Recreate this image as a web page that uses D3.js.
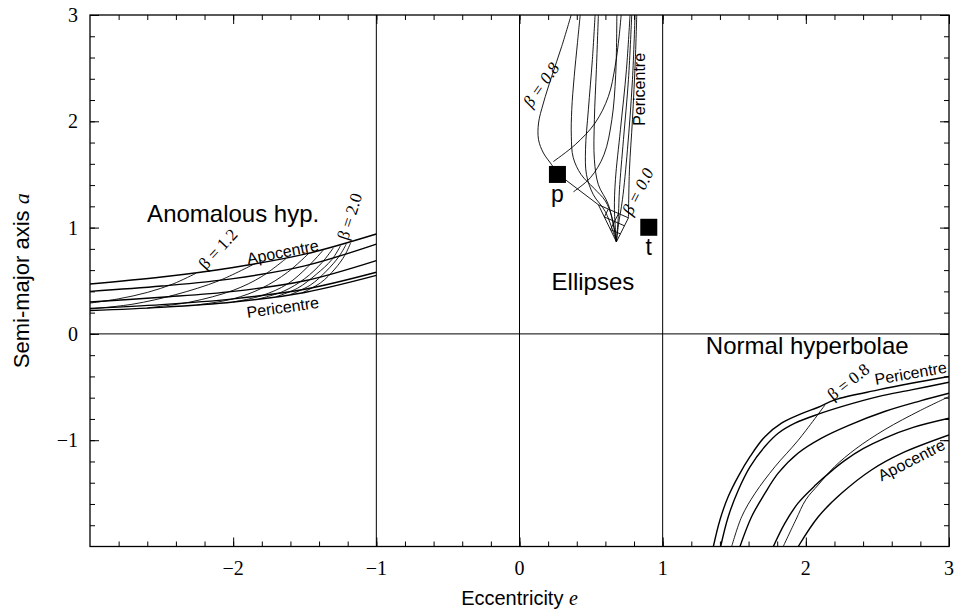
<!DOCTYPE html>
<html>
<head>
<meta charset="utf-8">
<style>
  body { margin: 0; background: #fff; }
  .lbl { font-family: "Liberation Sans", Arial, sans-serif; }
  .ser { font-family: "Liberation Serif", "Times New Roman", serif; }
</style>
</head>
<body>
<script src="https://cdn.jsdelivr.net/npm/d3@7/dist/d3.min.js"></script>
<script>
// ---- tick data ----
var xTickValues = [-2, -1, 0, 1, 2, 3];
var xTickLabels = ["\u22122", "\u22121", "0", "1", "2", "3"];
var yTickValues = [3, 2, 1, 0, -1];
var yTickLabels = ["3", "2", "1", "0", "\u22121"];
var dividerE = [-1, 0, 1];
var dividerA = [0];

// ---- anomalous hyperbolae, [e, a] ----
// thick lines, apocentre (top) down to pericentre (bottom)
var anomThick = [
  [[-3, 0.47], [-2.5, 0.535], [-2, 0.625], [-1.5, 0.75], [-1, 0.94]],
  [[-3, 0.40], [-2.5, 0.45], [-2, 0.52], [-1.5, 0.64], [-1, 0.845]],
  [[-3, 0.30], [-2.5, 0.345], [-2, 0.40], [-1.5, 0.50], [-1, 0.69]],
  [[-3, 0.24], [-2.5, 0.275], [-2, 0.33], [-1.5, 0.42], [-1, 0.58]],
  [[-3, 0.22], [-2.5, 0.25], [-2, 0.30], [-1.5, 0.39], [-1, 0.55]]
];
// thin beta lines, beta = 1.2 ... 2.0
var anomBeta = [
  [[-3, 0.29], [-2.8, 0.33], [-2.6, 0.39], [-2.42, 0.47], [-2.26, 0.57]],
  [[-3, 0.235], [-2.7, 0.28], [-2.4, 0.37], [-2.1, 0.50], [-1.85, 0.66]],
  [[-2.6, 0.245], [-2.3, 0.30], [-2.0, 0.41], [-1.8, 0.54], [-1.63, 0.71]],
  [[-2.25, 0.272], [-2.0, 0.33], [-1.8, 0.43], [-1.62, 0.58], [-1.47, 0.76]],
  [[-2.0, 0.30], [-1.8, 0.36], [-1.62, 0.47], [-1.48, 0.63], [-1.37, 0.79]],
  [[-1.82, 0.33], [-1.65, 0.40], [-1.5, 0.52], [-1.38, 0.67], [-1.30, 0.81]],
  [[-1.70, 0.35], [-1.55, 0.43], [-1.42, 0.56], [-1.31, 0.70], [-1.25, 0.83]],
  [[-1.60, 0.37], [-1.46, 0.46], [-1.35, 0.59], [-1.26, 0.73], [-1.21, 0.845]],
  [[-1.52, 0.385], [-1.39, 0.48], [-1.29, 0.61], [-1.22, 0.74], [-1.18, 0.855]]
];

// ---- ellipses, [e, a] ----
var ellCurves = [
  [[0.361, 3.0], [0.295, 2.705], [0.225, 2.423], [0.167, 2.172], [0.133, 1.984], [0.133, 1.827], [0.167, 1.702], [0.225, 1.591], [0.265, 1.507]],
  [[0.424, 3.0], [0.405, 2.74], [0.382, 2.42], [0.365, 2.11], [0.362, 1.86], [0.375, 1.66], [0.43, 1.50], [0.52, 1.37], [0.60, 1.25], [0.645, 1.10], [0.677, 0.866]],
  [[0.528, 3.0], [0.509, 2.58], [0.481, 2.109], [0.461, 1.733], [0.468, 1.497], [0.516, 1.309], [0.600, 1.149], [0.677, 0.866]],
  [[0.551, 3.0], [0.537, 2.486], [0.523, 2.015], [0.523, 1.638], [0.551, 1.403], [0.621, 1.215], [0.677, 0.866]],
  [[0.772, 3.0], [0.747, 2.486], [0.705, 1.921], [0.670, 1.450], [0.663, 1.168], [0.677, 0.866]],
  [[0.784, 3.0], [0.761, 2.392], [0.726, 1.827], [0.698, 1.356], [0.691, 1.121], [0.677, 0.866]],
  [[0.807, 3.0], [0.789, 2.392], [0.754, 1.733], [0.719, 1.262], [0.691, 1.026], [0.677, 0.866]],
  [[0.819, 3.0], [0.809, 2.58], [0.789, 2.015], [0.768, 1.544], [0.761, 1.092]],
  [[0.237, 1.622], [0.389, 1.780], [0.528, 1.984], [0.621, 2.234], [0.668, 2.517], [0.696, 2.800], [0.710, 3.0]],
  [[0.377, 1.337], [0.495, 1.469], [0.590, 1.685], [0.645, 2.015], [0.672, 2.439], [0.680, 3.0]]
];
// straight pieces near the beta = 0 corner
var ellNet = [
  [[0.265, 1.507], [0.551, 1.215]],
  [[0.551, 1.215], [0.761, 1.092]],
  [[0.761, 1.092], [0.677, 0.866]],
  [[0.551, 1.215], [0.677, 0.866]],
  [[0.620, 1.174], [0.593, 1.100]],
  [[0.692, 1.133], [0.635, 0.981]],
  [[0.593, 1.100], [0.733, 1.017]],
  [[0.635, 0.981], [0.705, 0.941]]
];
var markers = [
  { name: "p", e: 0.265, a: 1.50 },
  { name: "t", e: 0.903, a: 1.003 }
];

// ---- normal hyperbolae, [e, a] ----
var normThick = [
  [[1.354, -2.0], [1.40, -1.75], [1.458, -1.53], [1.528, -1.34], [1.61, -1.155], [1.714, -0.967], [1.83, -0.84], [1.97, -0.75], [2.087, -0.69], [2.203, -0.62], [2.505, -0.527], [2.737, -0.464], [3.0, -0.40]],
  [[1.405, -2.0], [1.458, -1.72], [1.528, -1.47], [1.61, -1.25], [1.714, -1.06], [1.807, -0.935], [1.924, -0.84], [2.087, -0.755], [2.273, -0.675], [2.505, -0.59], [2.737, -0.527], [3.0, -0.455]],
  [[1.54, -2.0], [1.621, -1.72], [1.714, -1.50], [1.807, -1.31], [1.947, -1.12], [2.11, -0.98], [2.3, -0.86], [2.55, -0.73], [2.8, -0.63], [3.0, -0.558]],
  [[1.773, -2.0], [1.854, -1.78], [1.947, -1.59], [2.07, -1.42], [2.17, -1.30], [2.273, -1.19], [2.4, -1.08], [2.552, -0.98], [2.75, -0.88], [3.0, -0.794]],
  [[1.947, -2.0], [2.087, -1.72], [2.249, -1.50], [2.458, -1.28], [2.668, -1.124], [3.0, -0.951]]
];
var normBeta = [
  [[1.482, -2.0], [1.552, -1.72], [1.645, -1.50], [1.784, -1.25], [1.947, -1.0], [2.133, -0.67]],
  [[1.842, -2.0], [1.93, -1.75], [2.0, -1.56], [2.087, -1.42], [2.2, -1.25], [2.35, -1.08], [2.552, -0.90], [2.8, -0.72], [3.0, -0.59]]
];

// ---- chart ----
var W = 957, H = 615;
var svg = d3.select("body").append("svg")
    .attr("width", W).attr("height", H);

var x = d3.scaleLinear().domain([-3, 3]).range([90, 949]);
var y = d3.scaleLinear().domain([-2, 3]).range([546.5, 15]);

svg.append("clipPath").attr("id", "clip")
  .append("rect")
    .attr("x", x(-3)).attr("y", y(3))
    .attr("width", x(3) - x(-3)).attr("height", y(-2) - y(3));

var plot = svg.append("g").attr("clip-path", "url(#clip)");

var smooth = d3.line()
    .x(function(d) { return x(d[0]); })
    .y(function(d) { return y(d[1]); })
    .curve(d3.curveCatmullRom.alpha(0.5));
var straight = d3.line()
    .x(function(d) { return x(d[0]); })
    .y(function(d) { return y(d[1]); });

function drawSet(data, gen, width) {
  plot.append("g").selectAll("path")
    .data(data)
    .enter().append("path")
      .attr("d", gen)
      .attr("fill", "none")
      .attr("stroke", "#000")
      .attr("stroke-width", width)
      .attr("stroke-linejoin", "round");
}

drawSet(anomBeta, smooth, 0.9);
drawSet(anomThick, smooth, 1.4);
drawSet(normBeta, smooth, 0.9);
drawSet(normThick, smooth, 1.4);
drawSet(ellCurves, smooth, 0.9);
drawSet(ellNet, straight, 0.9);

// dividers
plot.selectAll(".dve").data(dividerE).enter().append("line")
    .attr("x1", function(d) { return x(d); }).attr("x2", function(d) { return x(d); })
    .attr("y1", y(3)).attr("y2", y(-2))
    .attr("stroke", "#000").attr("stroke-width", 1);
plot.selectAll(".dva").data(dividerA).enter().append("line")
    .attr("y1", function(d) { return y(d); }).attr("y2", function(d) { return y(d); })
    .attr("x1", x(-3)).attr("x2", x(3))
    .attr("stroke", "#000").attr("stroke-width", 1);

// axes with inside ticks on four sides
var xMinor = d3.range(-14, 15).map(function(i) { return i / 5; });
var yMinor = d3.range(-9, 15).map(function(i) { return i / 5; });

function ticks(axis, vals, size, tr) {
  svg.append("g").attr("transform", tr)
    .call(axis.tickValues(vals).tickSize(size).tickFormat(""))
    .call(function(g) { g.select(".domain").remove(); g.selectAll("line").attr("stroke-width", 1); });
}
ticks(d3.axisTop(x), xMinor, 5, "translate(0," + y(-2) + ")");
ticks(d3.axisTop(x), xTickValues, 9, "translate(0," + y(-2) + ")");
ticks(d3.axisBottom(x), xMinor, 5, "translate(0," + y(3) + ")");
ticks(d3.axisBottom(x), xTickValues, 9, "translate(0," + y(3) + ")");
ticks(d3.axisRight(y), yMinor, 5, "translate(" + x(-3) + ",0)");
ticks(d3.axisRight(y), yTickValues, 9, "translate(" + x(-3) + ",0)");
ticks(d3.axisLeft(y), yMinor, 5, "translate(" + x(3) + ",0)");
ticks(d3.axisLeft(y), yTickValues, 9, "translate(" + x(3) + ",0)");

svg.append("rect")
    .attr("x", x(-3)).attr("y", y(3))
    .attr("width", x(3) - x(-3)).attr("height", y(-2) - y(3))
    .attr("fill", "none").attr("stroke", "#000").attr("stroke-width", 1.3);

// tick labels
svg.append("g").selectAll("text").data(xTickValues).enter().append("text")
    .attr("class", "ser")
    .attr("x", function(d) { return x(d); })
    .attr("y", 575)
    .attr("text-anchor", "middle")
    .attr("font-size", 20)
    .text(function(d, i) { return xTickLabels[i]; });
svg.append("g").selectAll("text").data(yTickValues).enter().append("text")
    .attr("class", "ser")
    .attr("x", 78)
    .attr("y", function(d) { return y(d) + 7; })
    .attr("text-anchor", "end")
    .attr("font-size", 20)
    .text(function(d, i) { return yTickLabels[i]; });

// axis titles
var xt = svg.append("text").attr("class", "lbl")
    .attr("x", x(0)).attr("y", 605)
    .attr("text-anchor", "middle").attr("font-size", 20);
xt.append("tspan").text("Eccentricity ");
xt.append("tspan").attr("class", "ser").attr("font-style", "italic").text("e");

var yt = svg.append("text").attr("class", "lbl")
    .attr("transform", "translate(29," + ((y(3) + y(-2)) / 2) + ") rotate(-90)")
    .attr("text-anchor", "middle").attr("font-size", 22);
yt.append("tspan").text("Semi-major axis ");
yt.append("tspan").attr("class", "ser").attr("font-style", "italic").text("a");

// markers
svg.selectAll(".mk").data(markers).enter().append("rect")
    .attr("x", function(d) { return x(d.e) - 8.5; })
    .attr("y", function(d) { return y(d.a) - 8.5; })
    .attr("width", 17).attr("height", 17)
    .attr("fill", "#000");
svg.selectAll(".mkl").data(markers).enter().append("text")
    .attr("class", "lbl")
    .attr("x", function(d) { return x(d.e); })
    .attr("y", function(d) { return y(d.a) + 28; })
    .attr("text-anchor", "middle").attr("font-size", 23)
    .text(function(d) { return d.name; });

// region titles and curve labels
function label(txt, e, a, size, cls, rot, italic) {
  var t = svg.append("text").attr("class", cls)
    .attr("transform", "translate(" + x(e) + "," + y(a) + ") rotate(" + (rot || 0) + ")")
    .attr("text-anchor", "middle").attr("dy", "0.35em")
    .attr("font-size", size);
  if (italic) t.attr("font-style", "italic");
  t.text(txt);
}
label("Anomalous hyp.", -2.0, 1.13, 24, "lbl");
label("Ellipses", 0.513, 0.49, 24, "lbl");
label("Normal hyperbolae", 2.01, -0.11, 24, "lbl");

label("\u03b2 = 1.2", -2.107, 0.80, 17, "ser", -47);
label("\u03b2 = 2.0", -1.188, 1.105, 17, "ser", -72);
label("Apocentre", -1.654, 0.77, 16, "lbl", -11);
label("Pericentre", -1.654, 0.25, 16, "lbl", -8);

label("\u03b2 = 0.8", 0.15, 2.345, 17, "ser", -55, true);
label("Pericentre", 0.838, 2.30, 16, "lbl", -90);
label("\u03b2 = 0.0", 0.825, 1.34, 17, "ser", -63, true);

label("\u03b2 = 0.8", 2.296, -0.449, 17, "ser", -38);
label("Pericentre", 2.732, -0.37, 16, "lbl", -10);
label("Apocentre", 2.738, -1.186, 16, "lbl", -27);
</script>
</body>
</html>
